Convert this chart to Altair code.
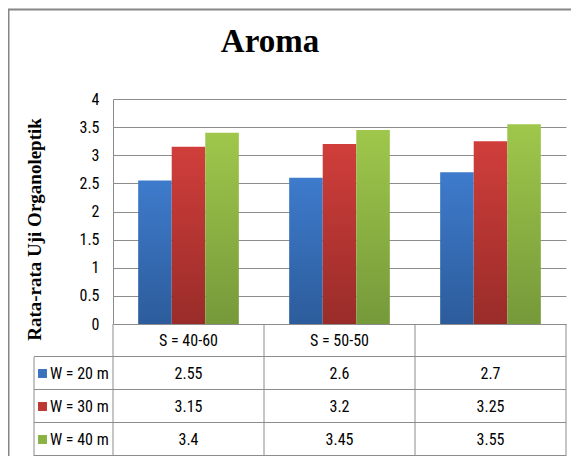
import altair as alt
import pandas as pd

# ---------------- data ----------------
TITLE = "Aroma"
Y_TITLE = "Rata-rata Uji Organoleptik"
categories = ["S = 40-60", "S = 50-50", ""]
series = ["W = 20 m", "W = 30 m", "W = 40 m"]
w20 = [2.55, 2.6, 2.7]
w30 = [3.15, 3.2, 3.25]
w40 = [3.4, 3.45, 3.55]
y_ticks = [0, 0.5, 1, 1.5, 2, 2.5, 3, 3.5, 4]

# ---------------- styles ----------------
grad_top = ["#3e7bcc", "#d03e3b", "#9fc74b"]
grad_bot = ["#2c5c9b", "#992c29", "#76993a"]
legend_colors = ["#3a72bd", "#bd3733", "#8ab243"]
LINE = "#8c8c8c"
SANS = "Liberation Sans Narrow, Roboto Condensed, Arial Narrow, sans-serif"
SERIF = "Liberation Serif, Times New Roman, serif"

W = 453          # plot width
PLOT_H = 225     # bar area height
ROW_H = 33       # table row height
H = PLOT_H + 4 * ROW_H
LEG_X = -79      # left edge of legend column of the table

values = [w20, w30, w40]
bars_df = pd.DataFrame(
    [{"idx": i, "series": s, "value": values[k][i]}
     for k, s in enumerate(series) for i in range(len(categories))]
)
rows = ["hdr"] + series
table_rows = [{"idx": i, "row": "hdr", "txt": c} for i, c in enumerate(categories)]
for k, s in enumerate(series):
    for i in range(len(categories)):
        table_rows.append({"idx": i, "row": s, "txt": str(values[k][i])})
table_df = pd.DataFrame(table_rows)
legend_df = pd.DataFrame({"row": series, "txt": series})

x_enc = alt.X("idx:O", scale=alt.Scale(domain=list(range(len(categories))),
                                       paddingInner=0, paddingOuter=0), axis=None)
xoff_enc = alt.XOffset("series:N", scale=alt.Scale(domain=series, paddingOuter=0.75,
                                                    paddingInner=0))
row_scale = alt.Scale(domain=rows, range=[PLOT_H, H])

y_axis = alt.Axis(
    values=y_ticks, format="~g", grid=True, gridColor=LINE, gridWidth=1,
    domain=True, domainColor=LINE, domainWidth=1, ticks=False,
    labelFont=SANS, labelFontSize=16, labelPadding=14, labelColor="#000000",
    title=Y_TITLE, titleFont=SERIF, titleFontWeight="bold", titleFontSize=19,
    titleColor="#000000", titleAngle=270, titleX=-73, titleY=130,
    titleAlign="center", titleBaseline="alphabetic",
)


def bar_layer(k):
    grad = alt.Gradient(
        gradient="linear", x1=0, y1=0, x2=0, y2=1,
        stops=[alt.GradientStop(color=grad_top[k], offset=0),
               alt.GradientStop(color=grad_bot[k], offset=1)],
    )
    return alt.Chart(bars_df[bars_df["series"] == series[k]]).mark_bar(fill=grad).encode(
        x=x_enc,
        xOffset=xoff_enc,
        y=alt.Y("value:Q", scale=alt.Scale(domain=[0, 4], range=[PLOT_H, 0]),
                axis=y_axis),
    )


bars = alt.layer(*[bar_layer(k) for k in range(3)])

cell_text = alt.Chart(table_df).mark_text(font=SANS, fontSize=16, color="#000000",
                                          baseline="middle", align="center").encode(
    x=x_enc,
    y=alt.Y("row:N", scale=row_scale, axis=None),
    text="txt:N",
)
leg_sq = alt.Chart(legend_df).mark_square(size=80, opacity=1).encode(
    x=alt.value(LEG_X + 8.5),
    y=alt.Y("row:N", scale=row_scale, axis=None),
    color=alt.Color("row:N", scale=alt.Scale(domain=series, range=legend_colors), legend=None),
)
leg_txt = alt.Chart(legend_df).mark_text(font=SANS, fontSize=16, color="#000000",
                                         align="left", baseline="middle").encode(
    x=alt.value(LEG_X + 16),
    y=alt.Y("row:N", scale=row_scale, axis=None),
    text="txt:N",
)
table = alt.layer(cell_text, leg_sq, leg_txt)

one = pd.DataFrame({"a": [0]})


def hline(y, x1, x2, color=LINE, width=1):
    return alt.Chart(one).mark_rule(color=color, strokeWidth=width).encode(
        x=alt.value(x1), x2=alt.value(x2), y=alt.value(y))


def vline(x, y1, y2, color=LINE, width=1):
    return alt.Chart(one).mark_rule(color=color, strokeWidth=width).encode(
        x=alt.value(x), y=alt.value(y1), y2=alt.value(y2))


lines = [hline(PLOT_H + ROW_H * r - 0.5, LEG_X, W) for r in range(1, 5)]
lines += [vline(W * c / 3, PLOT_H, H) for c in range(4)]
lines += [vline(LEG_X, PLOT_H + ROW_H, H)]
# outer chart border
lines += [vline(-104.5, -90, H + 10, color="#868686", width=2),
          hline(-89.5, -105, W + 20, color="#868686", width=2)]

title = alt.Chart(pd.DataFrame({"t": [TITLE]})).mark_text(
    font=SERIF, fontWeight="bold", fontSize=33, color="#000000",
    align="center", baseline="alphabetic").encode(
    x=alt.value(157), y=alt.value(-47), text="t:N")

chart = alt.layer(bars, table, *lines, title).resolve_scale(y="independent").properties(
    width=W, height=H,
    autosize=alt.AutoSizeParams(type="none"),
    padding={"left": 105, "top": 91, "right": 5, "bottom": 0},
).configure_view(stroke=None)

chart.save("out.html", embed_options={"renderer": "svg", "actions": False})
